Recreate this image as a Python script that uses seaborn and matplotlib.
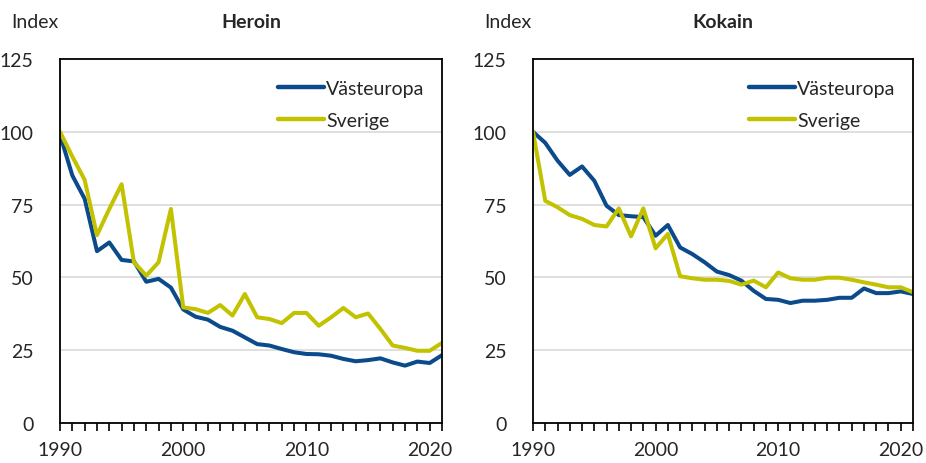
import numpy as np
import pandas as pd
import seaborn as sns
import matplotlib.pyplot as plt
from matplotlib.ticker import MultipleLocator

# Data (index, 1990 = 100)
years = list(range(1990, 2022))

heroin_vast = [99, 85, 77, 59, 62, 56, 55.5, 48.5, 49.5, 46.5, 39, 36.5, 35.5, 33, 31.7, 29.4,
               27.1, 26.6, 25.4, 24.3, 23.7, 23.6, 23.1, 22, 21.2, 21.6, 22.2, 20.8, 19.7, 21.1,
               20.6, 23.3]
heroin_sve = [100, 91.5, 83.5, 64.5, 73.5, 82, 55.2, 50.6, 55.2, 73.5, 39.7, 39.1, 37.8, 40.5,
              36.9, 44.3, 36.3, 35.7, 34.3, 37.8, 37.8, 33.4, 36.3, 39.5, 36.3, 37.6, 32.3, 26.6,
              25.8, 24.8, 24.8, 27.5]

kokain_vast = [100, 96.2, 90.1, 85.2, 88.1, 83.2, 74.6, 71.4, 71.0, 70.7, 64.3, 68.0, 60.3, 58.0,
               55.2, 52.0, 50.8, 48.9, 45.4, 42.6, 42.3, 41.2, 42.0, 42.0, 42.3, 43.0, 43.0, 46.2,
               44.6, 44.6, 45.2, 44.3]
kokain_sve = [100, 76.3, 74.1, 71.4, 70.1, 68.0, 67.5, 73.7, 64.1, 73.7, 60.0, 64.9, 50.4, 49.7,
              49.2, 49.2, 48.8, 47.5, 48.9, 46.6, 51.7, 49.7, 49.2, 49.2, 49.9, 49.9, 49.2, 48.3,
              47.5, 46.6, 46.6, 44.9]

series_names = ['Västeuropa', 'Sverige']
colors = {'Västeuropa': '#0b4a8b', 'Sverige': '#c2c200'}

sns.set_style('white')
plt.rcParams['font.family'] = ['Lato', 'DejaVu Sans']

fig = plt.figure(figsize=(9.26, 4.64), dpi=100)
ax1 = fig.add_axes([60 / 926, 1 - 424 / 464, 382 / 926, 364 / 464])
ax2 = fig.add_axes([533 / 926, 1 - 424 / 464, 380 / 926, 364 / 464])

panels = [
    (ax1, heroin_vast, heroin_sve, 'Heroin'),
    (ax2, kokain_vast, kokain_sve, 'Kokain'),
]

for ax, vast, sve, title in panels:
    df = pd.DataFrame({
        'year': years * 2,
        'value': vast + sve,
        'serie': [series_names[0]] * len(years) + [series_names[1]] * len(years),
    })
    sns.lineplot(data=df, x='year', y='value', hue='serie', palette=colors,
                 hue_order=series_names, linewidth=2.9, ax=ax, legend=True)
    ax.set_xlim(1990, 2021)
    ax.set_ylim(0, 125)
    ax.set_yticks([0, 25, 50, 75, 100, 125])
    ax.set_xticks([1990, 2000, 2010, 2020])
    ax.xaxis.set_minor_locator(MultipleLocator(1))
    ax.tick_params(axis='x', which='both', direction='out', length=6, width=1.2,
                   color='black', bottom=True, labelsize=14, pad=7)
    ax.tick_params(axis='y', length=0, labelsize=14, pad=19)
    for gy in [25, 50, 75, 100]:
        ax.axhline(gy, color='#d9d9d9', linewidth=1.2, zorder=0)
    for sp in ax.spines.values():
        sp.set_visible(True)
        sp.set_color('black')
        sp.set_linewidth(1.3)
    ax.set_xlabel('')
    ax.set_ylabel('')
    ax.set_title(title, fontsize=14, fontweight='bold', pad=23)
    ax.text(-0.128, 1.088, 'Index', transform=ax.transAxes, fontsize=14,
            ha='left', va='baseline')
    leg = ax.legend(loc='upper right', bbox_to_anchor=(1.0, 0.99), frameon=False,
                    fontsize=14, handlelength=2.4, handletextpad=0.1, labelspacing=0.75)
    for line in leg.get_lines():
        line.set_linewidth(3.2)

fig.savefig('out.png', dpi=100)
